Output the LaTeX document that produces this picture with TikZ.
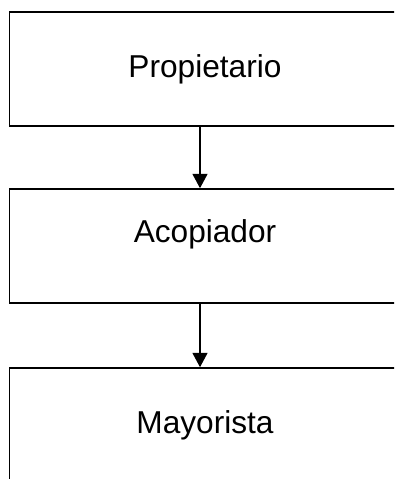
\documentclass[tikz,border=0pt]{standalone}
\usepackage{fontspec}
\setmainfont{Liberation Sans}
\usetikzlibrary{arrows.meta}
\tikzset{
  stage/.style={draw, line width=1.1pt, minimum width=9.775cm, minimum height=2.85cm, inner sep=0pt, font=\fontsize{22.5}{26}\selectfont},
  flow/.style={line width=1.1pt, -{Triangle[width=0.375cm, length=0.36cm]}}
}
\begin{document}
\begin{tikzpicture}[x=0.025cm, y=-0.025cm]
  %%%%% START %%%%%
  \useasboundingbox (0, 0) rectangle (394, 479);
  \clip (0, 0) rectangle (394, 479);

  \node[stage] (prop) at (205, 69) {Propietario};
  \node[stage, text depth=21pt] (acop) at (205, 246) {Acopiador};
  \node[stage] (mayo) at (205, 425) {Mayorista};

  \draw[flow] ([xshift=-0.125cm]prop.south) -- ([xshift=-0.125cm]acop.north);
  \draw[flow] ([xshift=-0.125cm]acop.south) -- ([xshift=-0.125cm]mayo.north);
  %%%%% END %%%%%
\end{tikzpicture}
\end{document}
